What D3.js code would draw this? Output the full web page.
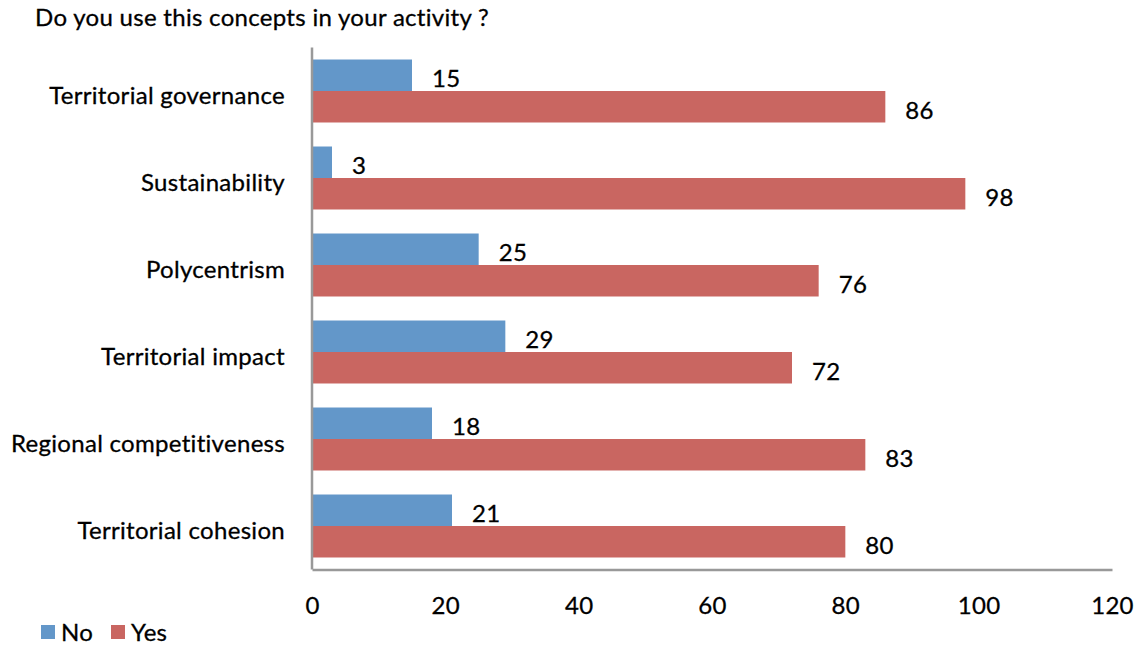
<!DOCTYPE html>
<html>
<head>
<meta charset="utf-8">
<script src="https://cdnjs.cloudflare.com/ajax/libs/d3/7.8.5/d3.min.js"></script>
<style>
  body { margin: 0; background: #fff; }
  text { font-family: Lato, "Open Sans", sans-serif; fill: #000; stroke: #000; stroke-width: 0.3px; letter-spacing: 0.3px; }
</style>
</head>
<body>
<main></main>
<script>
// chart data, top to bottom as drawn
var categories = ["Territorial governance", "Sustainability", "Polycentrism",
                  "Territorial impact", "Regional competitiveness", "Territorial cohesion"];
var seriesNames = ["No", "Yes"];
var noValues = [15, 3, 25, 29, 18, 21];
var yesValues = [86, 98, 76, 72, 83, 80];
var xTicks = [0, 20, 40, 60, 80, 100, 120];

var colors = ["#6397c9", "#c96661"];

var w = 1136,
    h = 648,
    plotLeft = 312,
    plotRight = 1112,
    plotTop = 47.5,
    plotBottom = 569.5,
    fontSize = "24px";

var svg = d3.select("main")
            .append("svg")
            .attr("width", w)
            .attr("height", h);

var x = d3.scaleLinear().domain([0, 120]).range([plotLeft, plotRight]);

var y = d3.scaleBand()
          .domain(categories)
          .range([plotTop, plotBottom])
          .paddingInner(0.276)
          .paddingOuter(0.138);

var ySub = d3.scaleBand()
             .domain(seriesNames)
             .range([0, y.bandwidth()]);

// title
svg.append("text")
   .attr("x", 35)
   .attr("y", 26)
   .attr("font-size", "24px")
   .text("Do you use this concepts in your activity ?");

var rows = categories.map(function (c, i) {
  return {cat: c, values: [noValues[i], yesValues[i]]};
});

var groups = svg.selectAll("g.row")
   .data(rows)
   .enter()
   .append("g")
   .attr("class", "row")
   .attr("transform", function (d) { return "translate(0," + y(d.cat) + ")"; });

groups.selectAll("rect")
   .data(function (d) {
     return d.values.map(function (v, j) { return {name: seriesNames[j], v: v, j: j}; });
   })
   .enter()
   .append("rect")
   .attr("x", x(0))
   .attr("y", function (d) { return ySub(d.name); })
   .attr("width", function (d) { return x(d.v) - x(0); })
   .attr("height", ySub.bandwidth())
   .attr("fill", function (d) { return colors[d.j]; });

groups.selectAll("text.val")
   .data(function (d) {
     return d.values.map(function (v, j) { return {name: seriesNames[j], v: v}; });
   })
   .enter()
   .append("text")
   .attr("class", "val")
   .attr("x", function (d) { return x(d.v) + 20; })
   .attr("y", function (d) { return ySub(d.name) + ySub.bandwidth() / 2 + 12; })
   .attr("font-size", fontSize)
   .text(function (d) { return d.v; });

// category labels
svg.append("g")
   .attr("transform", "translate(" + (plotLeft - 27) + ",0)")
   .selectAll("text")
   .data(categories)
   .enter()
   .append("text")
   .attr("text-anchor", "end")
   .attr("x", 0)
   .attr("y", function (d) { return y(d) + y.bandwidth() / 2 + 13; })
   .attr("font-size", fontSize)
   .text(function (d) { return d; });

// axes (no tick marks, just the grey lines)
var xAxis = svg.append("g")
   .attr("transform", "translate(0," + plotBottom + ")")
   .call(d3.axisBottom(x).tickValues(xTicks).tickSize(0).tickPadding(27));
xAxis.select(".domain").attr("stroke", "#999").attr("stroke-width", 2.5);
xAxis.selectAll("text")
   .attr("font-size", fontSize)
   .attr("font-family", "Lato, sans-serif")
   .attr("fill", "#000");

svg.append("line")
   .attr("x1", plotLeft).attr("x2", plotLeft)
   .attr("y1", plotTop).attr("y2", plotBottom)
   .attr("stroke", "#999")
   .attr("stroke-width", 2.5);

// legend
var legend = svg.append("g").attr("transform", "translate(41,625)");
var items = legend.selectAll("g")
   .data(seriesNames)
   .enter()
   .append("g")
   .attr("transform", function (d, i) { return "translate(" + (i * 70) + ",0)"; });
items.append("rect")
   .attr("width", 14).attr("height", 14)
   .attr("fill", function (d, i) { return colors[i]; });
items.append("text")
   .attr("x", 20)
   .attr("y", 16)
   .attr("font-size", fontSize)
   .text(function (d) { return d; });
</script>
</body>
</html>
